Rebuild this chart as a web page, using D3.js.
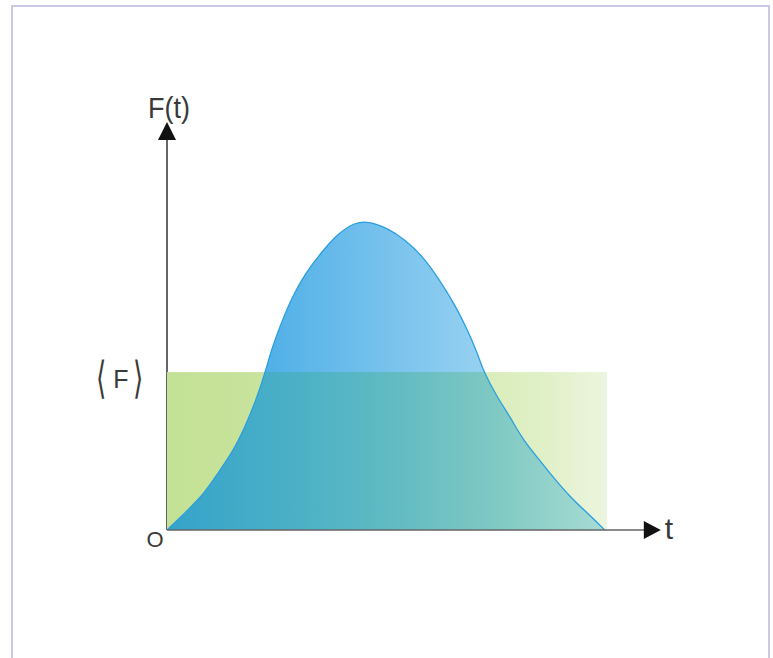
<!DOCTYPE html>
<html>
<head>
<meta charset="utf-8">
<title>F(t) mean value</title>
<script src="https://d3js.org/d3.v7.min.js"></script>
<style>
  body { margin: 0; background: #fff; }
  text { font-family: "Liberation Sans", Arial, sans-serif; fill: #3a3a3a; }
</style>
</head>
<body>
<script>
// curve F(t)
const tVals = [0, 0.41, 0.86, 1.16, 1.48, 1.77, 2.0, 2.23, 2.38, 2.61, 2.83, 3.14, 3.52, 3.89, 4.27, 4.58, 5.03, 5.41, 5.79, 6.17, 6.55, 6.85, 7.07, 7.19, 7.5, 7.8, 8.09, 8.41, 8.77, 9.16, 9.55, 9.95]
const fVals = [0, 4.2, 9.1, 14.0, 18.9, 25.2, 31.1, 38.5, 44.5, 51.1, 56.8, 62.9, 68.2, 72.7, 75.4, 75.7, 73.9, 71.1, 67.4, 61.7, 55.1, 48.6, 42.9, 38.9, 32.6, 27.7, 22.1, 17.9, 13.0, 8.1, 4.2, 0]
const meanF = 38.7
const tEnd = 10
const tMax = 11.2
const fMax = 100

const W = 773, H = 658

const x = d3.scaleLinear().domain([0, tEnd]).range([167, 607])
const y = d3.scaleLinear().domain([0, fMax]).range([530, 122])

const svg = d3.select("body").append("svg")
  .attr("width", W)
  .attr("height", H)

// frame
svg.append("rect")
  .attr("x", 12).attr("y", 6)
  .attr("width", 757).attr("height", 700)
  .attr("fill", "#fff")
  .attr("stroke", "#c9c9e3")
  .attr("stroke-width", 2)

const defs = svg.append("defs")

const grad = (id, x1, x2, stops) => {
  let g = defs.append("linearGradient")
    .attr("id", id)
    .attr("gradientUnits", "userSpaceOnUse")
    .attr("x1", x1).attr("x2", x2).attr("y1", 0).attr("y2", 0)
  stops.forEach(s => g.append("stop").attr("offset", s[0]).attr("stop-color", s[1]))
}

grad("gGreen", x(0), x(tEnd), [[0, "#c3e194"], [0.55, "#d0e8aa"], [0.85, "#e0f0c6"], [1, "#ecf5df"]])
grad("gBlue", x(2.2), x(7.2), [[0, "#50afe7"], [1, "#96d1f1"]])
grad("gMix", x(0), x(tEnd), [[0, "#35a3ca"], [0.3, "#4cb1c6"], [0.5, "#5fbac2"], [0.75, "#80c9c3"], [1, "#a8dcd4"]])

defs.append("clipPath").attr("id", "clipMean")
  .append("rect")
  .attr("x", x(0)).attr("y", y(meanF))
  .attr("width", x(tEnd) - x(0)).attr("height", y(0) - y(meanF))

const pts = tVals.map((t, i) => [t, fVals[i]])

const area = d3.area()
  .x(d => x(d[0]))
  .y0(y(0))
  .y1(d => y(d[1]))
  .curve(d3.curveBasis)

const line = d3.line()
  .x(d => x(d[0]))
  .y(d => y(d[1]))
  .curve(d3.curveBasis)

// y axis line (under the fills)
svg.append("line")
  .attr("x1", x(0)).attr("x2", x(0))
  .attr("y1", y(0)).attr("y2", y(fMax) + 10)
  .attr("stroke", "#333").attr("stroke-width", 1.5)

// mean value rectangle
svg.append("rect")
  .attr("x", x(0)).attr("y", y(meanF))
  .attr("width", x(tEnd) - x(0)).attr("height", y(0) - y(meanF))
  .attr("fill", "url(#gGreen)")

// curve area
svg.append("path")
  .datum(pts)
  .attr("d", area)
  .attr("fill", "url(#gBlue)")

svg.append("path")
  .datum(pts)
  .attr("d", area)
  .attr("fill", "url(#gMix)")
  .attr("clip-path", "url(#clipMean)")

svg.append("path")
  .datum(pts)
  .attr("d", line)
  .attr("fill", "none")
  .attr("stroke", "#2b9fe0")
  .attr("stroke-width", 1.3)

// x axis
svg.append("line")
  .attr("x1", x(0)).attr("x2", x(tMax) - 10)
  .attr("y1", y(0)).attr("y2", y(0))
  .attr("stroke", "#666").attr("stroke-width", 1.5)

svg.append("path")
  .attr("d", `M${x(tMax) - 16},${y(0) - 9} L${x(tMax) + 1},${y(0)} L${x(tMax) - 16},${y(0) + 9} Z`)
  .attr("fill", "#111")

svg.append("path")
  .attr("d", `M${x(0) - 9},${y(fMax) + 18} L${x(0)},${y(fMax)} L${x(0) + 9},${y(fMax) + 18} Z`)
  .attr("fill", "#111")

// labels
svg.append("text")
  .attr("x", 148).attr("y", 118)
  .attr("font-size", 30)
  .attr("textLength", 42).attr("lengthAdjust", "spacingAndGlyphs")
  .text("F(t)")

svg.append("text")
  .attr("x", x(tMax) + 5).attr("y", y(0) + 9)
  .attr("font-size", 30)
  .text("t")

svg.append("text")
  .attr("x", 155).attr("y", 547)
  .attr("text-anchor", "middle")
  .attr("font-size", 22)
  .text("O")

// <F> label: thin tall brackets around F
const my = y(meanF) + 13
svg.append("text")
  .attr("x", 101).attr("y", my + 8)
  .attr("text-anchor", "middle")
  .attr("font-size", 44)
  .attr("font-family", "DejaVu Sans")
  .attr("font-weight", 200)
  .attr("fill", "#555")
  .attr("transform", `translate(101,${my}) scale(0.6,1) translate(-101,${-my})`)
  .text("⟨")
svg.append("text")
  .attr("x", 121).attr("y", my + 3)
  .attr("text-anchor", "middle")
  .attr("font-size", 25)
  .text("F")
svg.append("text")
  .attr("x", 138).attr("y", my + 8)
  .attr("text-anchor", "middle")
  .attr("font-size", 44)
  .attr("font-family", "DejaVu Sans")
  .attr("font-weight", 200)
  .attr("fill", "#555")
  .attr("transform", `translate(138,${my}) scale(0.6,1) translate(-138,${-my})`)
  .text("⟩")
</script>
</body>
</html>
